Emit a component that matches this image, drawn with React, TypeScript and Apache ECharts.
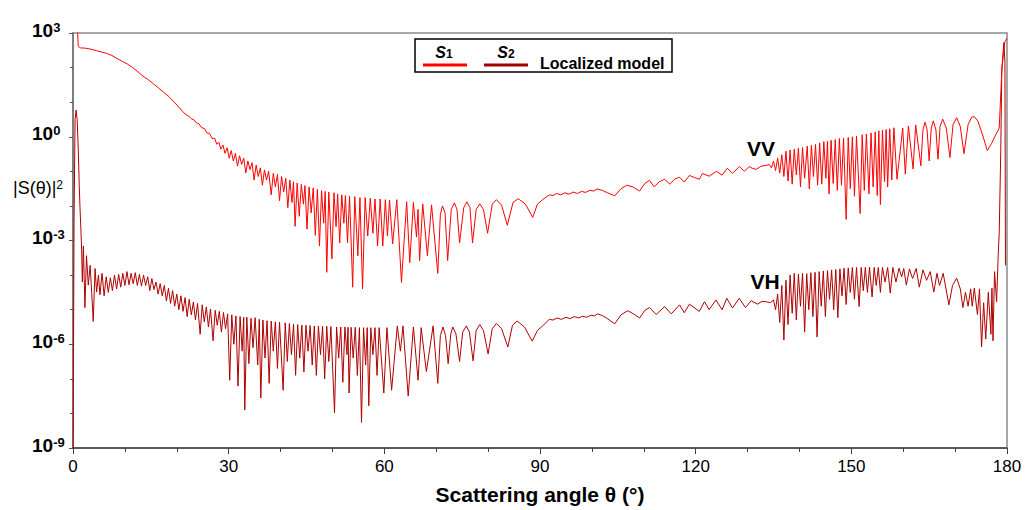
import React, { useEffect, useRef } from "react";
import * as echarts from "echarts";

// theta (deg) and log10 |S(theta)|^2
const xTicks = [0, 30, 60, 90, 120, 150, 180];
const yTickExponents = [-9, -6, -3, 0, 3];

const vvLog10: [number, number][] = [
  [0, 3.8], [0.8, 3.4], [1.0, 2.62], [1.4, 2.57], [2.5, 2.56], [3.5, 2.53], [4.5, 2.49], [5.5, 2.45], [6.5, 2.41], [7.5, 2.35],
  [8.5, 2.26], [9.5, 2.18], [10.5, 2.1], [11.5, 2.0], [12.5, 1.88], [13.5, 1.75], [14.5, 1.65], [15.5, 1.53], [16.5, 1.41], [17.5, 1.28],
  [18.5, 1.16], [19.5, 1.0], [20.5, 0.84], [21.3, 0.70], [21.8, 0.64], [22.3, 0.60], [22.8, 0.52], [23.3, 0.49], [23.8, 0.40], [24.3, 0.37],
  [24.8, 0.26], [25.3, 0.24], [25.8, 0.11], [26.3, 0.10], [26.8, -0.05], [27.3, -0.04], [27.7, -0.22], [28.1, -0.15], [28.5, -0.36], [28.9, -0.24],
  [29.3, -0.48], [29.7, -0.32], [30.1, -0.62], [30.5, -0.40], [30.9, -0.70], [31.3, -0.48], [31.7, -0.85], [32.1, -0.55], [32.5, -0.80], [32.9, -0.62],
  [33.3, -1.05], [33.7, -0.70], [34.1, -0.95], [34.5, -0.75], [34.9, -1.25], [35.3, -0.82], [35.7, -1.15], [36.1, -0.90], [36.5, -1.40], [36.9, -0.96],
  [37.3, -1.25], [37.7, -1.00], [38.2, -1.68], [38.6, -1.06], [39.0, -1.45], [39.4, -1.09], [39.8, -1.85], [40.2, -1.15], [40.6, -1.60], [41.0, -1.20],
  [41.4, -2.05], [41.8, -1.25], [42.2, -1.90], [42.5, -1.30], [42.8, -2.59], [43.2, -1.34], [43.6, -2.30], [44.0, -1.38], [44.4, -1.95], [44.7, -1.41],
  [45.1, -2.67], [45.5, -1.45], [45.9, -2.20], [46.3, -1.48], [46.7, -2.85], [47.1, -1.52], [47.5, -3.16], [47.9, -1.56], [48.3, -2.5], [48.6, -1.58],
  [48.9, -3.92], [49.3, -1.60], [49.9, -3.53], [50.3, -1.62], [50.7, -2.6], [51.0, -1.66], [51.4, -3.07], [51.8, -1.68], [52.2, -2.5], [52.5, -1.70],
  [52.9, -3.07], [53.3, -1.72], [53.9, -4.35], [54.3, -1.73], [54.9, -3.44], [55.3, -1.76], [55.8, -4.40], [56.3, -1.76], [56.8, -2.87], [57.3, -1.78],
  [57.8, -2.79], [58.2, -1.80], [58.7, -3.16], [59.2, -1.80], [59.7, -3.16], [60.2, -1.82], [60.6, -2.87], [61.0, -1.83], [61.6, -3.10], [62.4, -1.82],
  [63.3, -4.21], [64.3, -1.88], [64.9, -3.64], [65.6, -1.90], [66.2, -2.90], [66.5, -2.10], [66.8, -3.58], [67.4, -1.94], [68.3, -3.44], [69.1, -1.97],
  [70.3, -3.95], [70.8, -2.25], [71.2, -2.0], [71.7, -2.2], [72.2, -3.58], [72.9, -2.1], [73.5, -1.91], [74.0, -2.1], [74.5, -3.07], [75.3, -2.05],
  [75.9, -1.88], [76.5, -2.05], [77.0, -3.07], [77.7, -2.1], [78.4, -1.94], [79.1, -2.1], [79.9, -2.79], [80.8, -1.95], [81.6, -1.82], [82.6, -1.98],
  [83.7, -2.56], [84.8, -1.9], [85.8, -1.79], [87.2, -1.95], [88.6, -2.33], [89.5, -1.95], [90.5, -1.82], [91.8, -1.68], [92.5, -1.70], [93.2, -1.64],
  [94.0, -1.68], [94.8, -1.62], [95.6, -1.66], [96.4, -1.60], [97.2, -1.64], [98.0, -1.58], [98.8, -1.61], [99.6, -1.55], [100.4, -1.57], [101.0, -1.51],
  [102.0, -1.55], [103.0, -1.62], [104.4, -1.71], [105.5, -1.52], [106.7, -1.40], [107.9, -1.45], [109.2, -1.57], [110.2, -1.35], [111.1, -1.26], [112.0, -1.45],
  [113.0, -1.30], [114.0, -1.23], [115.0, -1.37], [116.0, -1.22], [116.9, -1.17], [117.8, -1.31], [118.8, -1.12], [119.8, -1.18], [120.7, -1.23], [121.3, -1.06],
  [122.6, -1.14], [124.0, -1.00], [125.1, -1.11], [126.1, -0.91], [127.1, -1.06], [128.4, -0.86], [129.4, -1.00], [130.3, -0.86], [131.0, -0.92], [131.7, -0.94],
  [132.6, -0.85], [133.6, -0.83], [134.2, -0.80], [134.6, -0.90], [135.0, -0.70], [135.4, -0.98], [135.8, -0.62], [136.2, -1.05], [136.6, -0.52], [137.0, -1.15],
  [137.4, -0.42], [137.8, -1.28], [138.2, -0.38], [138.6, -1.37], [139.0, -0.36], [139.4, -1.10], [139.8, -0.33], [140.2, -1.45], [140.6, -0.31], [141.0, -1.20],
  [141.5, -0.27], [141.9, -1.51], [142.3, -0.25], [142.7, -1.15], [143.1, -0.22], [143.5, -1.40], [143.9, -0.18], [144.3, -1.37], [144.7, -0.14], [145.1, -1.20],
  [145.4, -0.13], [145.7, -1.65], [146.1, -0.10], [146.5, -1.35], [146.9, -0.08], [147.3, -1.55], [147.7, -0.05], [148.1, -1.40], [148.5, -0.04], [149.0, -2.39],
  [149.4, -0.02], [149.8, -1.50], [150.2, 0.0], [150.6, -1.72], [151.0, 0.02], [151.7, -2.22], [152.1, 0.06], [152.5, -1.55], [152.9, 0.08], [153.4, -1.65],
  [153.8, 0.11], [154.2, -1.45], [154.6, 0.14], [155.0, -1.70], [155.3, 0.17], [155.6, -1.96], [156.0, 0.19], [156.4, -1.30], [156.7, 0.21], [157.0, -1.45],
  [157.4, 0.23], [157.8, -1.25], [158.2, 0.26], [158.8, -1.23], [159.9, 0.25], [160.4, -1.08], [161.0, 0.31], [161.9, -0.93], [162.4, 0.34], [163.4, -0.84],
  [163.8, 0.2], [164.2, 0.42], [164.6, 0.2], [165.0, -0.70], [165.4, 0.25], [165.8, 0.46], [166.3, 0.2], [166.7, -0.65], [167.1, 0.3], [167.6, 0.51],
  [168.3, 0.25], [169.0, -0.60], [169.6, 0.35], [170.3, 0.55], [171.0, 0.3], [171.7, -0.49], [172.5, 0.35], [173.2, 0.57], [173.7, 0.58], [174.4, 0.45],
  [175.3, 0.05], [176.2, -0.40], [177.0, -0.20], [177.8, 0.05], [178.5, 0.25], [179.0, 1.9], [179.3, 2.4], [179.6, 2.75], [180, 2.85],
];

const vhLog10: [number, number][] = [
  [0, -10], [0.2, -2.5], [0.4, 0.5], [0.6, 0.77], [0.8, 0.5], [1.0, -0.3], [1.2, -1.4], [1.35, -2.05], [1.5, -2.6], [1.67, -3.3],
  [1.8, -4.2], [2.0, -3.16], [2.3, -4.94], [2.6, -3.44], [2.95, -4.29], [3.3, -3.72], [3.6, -4.5], [3.9, -5.34], [4.25, -3.81], [4.55, -4.49],
  [4.9, -4.0], [5.2, -4.57], [5.6, -3.95], [6.0, -4.6], [6.4, -4.05], [6.8, -4.5], [7.2, -4.08], [7.6, -4.45], [8.0, -4.0], [8.4, -4.4],
  [8.8, -3.98], [9.2, -4.35], [9.6, -3.95], [10.0, -4.3], [10.4, -3.9], [10.8, -4.28], [11.2, -3.95], [11.6, -4.25], [12.0, -3.93], [12.4, -4.3],
  [12.8, -3.98], [13.2, -4.32], [13.6, -4.0], [14.0, -4.3], [14.4, -4.05], [14.8, -4.45], [15.2, -4.1], [15.6, -4.42], [16.0, -4.2], [16.4, -4.55],
  [16.8, -4.25], [17.2, -4.6], [17.6, -4.3], [18.0, -4.75], [18.4, -4.38], [18.8, -4.82], [19.2, -4.45], [19.6, -4.9], [20.0, -4.55], [20.4, -5.0],
  [20.8, -4.6], [21.2, -5.05], [21.6, -4.65], [22.0, -5.2], [22.4, -4.7], [22.8, -5.15], [23.2, -4.78], [23.6, -5.3], [24.0, -4.82], [24.5, -5.71],
  [24.9, -4.86], [25.3, -5.35], [25.7, -4.92], [26.1, -5.5], [26.5, -4.98], [27.0, -5.9], [27.4, -5.02], [27.8, -5.45], [28.2, -5.05], [28.6, -5.65],
  [29.0, -5.08], [29.4, -5.55], [29.8, -5.12], [30.2, -7.04], [30.6, -5.15], [31.0, -6.0], [31.4, -5.18], [31.8, -7.21], [32.2, -5.2], [32.6, -6.2],
  [32.9, -5.22], [33.1, -7.9], [33.5, -5.22], [33.9, -6.56], [34.3, -5.25], [34.7, -6.1], [35.1, -5.23], [35.6, -6.6], [35.9, -5.28], [36.2, -7.55],
  [36.6, -5.3], [37.0, -6.4], [37.4, -5.32], [37.8, -7.13], [38.2, -5.33], [38.6, -6.2], [39.0, -5.35], [39.4, -6.7], [39.8, -5.36], [40.5, -7.33],
  [40.9, -5.38], [41.3, -6.5], [41.7, -5.4], [42.1, -6.3], [42.5, -5.42], [42.9, -6.9], [43.3, -5.43], [43.7, -6.4], [44.1, -5.45], [44.5, -6.8],
  [44.9, -5.45], [45.3, -6.2], [45.7, -5.46], [46.1, -6.6], [46.5, -5.47], [46.9, -6.9], [47.3, -5.47], [47.7, -6.3], [48.1, -5.48], [48.5, -7.0],
  [48.9, -5.48], [49.3, -6.5], [49.7, -5.49], [50.4, -7.98], [50.8, -5.5], [51.2, -6.4], [51.6, -5.5], [52.0, -7.1], [52.4, -5.5], [52.8, -6.3],
  [53.0, -5.51], [53.2, -7.41], [53.6, -5.51], [54.0, -6.4], [54.4, -5.51], [54.8, -6.9], [55.2, -5.52], [55.6, -8.26], [56.0, -5.52], [56.4, -6.6],
  [56.7, -5.52], [57.0, -7.78], [57.4, -5.52], [57.8, -6.3], [58.2, -5.52], [58.6, -6.9], [59.0, -5.52], [59.9, -7.41], [60.5, -5.52], [61.4, -7.33],
  [62.5, -5.47], [63.1, -6.2], [63.6, -5.47], [64.6, -7.5], [65.6, -5.5], [66.5, -7.04], [67.1, -5.52], [68.1, -6.79], [69.4, -5.47], [70.3, -7.13],
  [70.8, -5.75], [71.3, -5.5], [71.8, -5.75], [72.3, -6.56], [72.8, -5.7], [73.2, -5.50], [73.8, -5.7], [74.5, -6.5], [75.1, -5.65], [75.8, -5.47],
  [76.4, -5.65], [77.1, -6.48], [77.7, -5.6], [78.4, -5.43], [79.1, -5.6], [80.0, -6.28], [80.8, -5.55], [81.6, -5.40], [82.6, -5.55], [83.8, -6.08],
  [84.7, -5.45], [85.6, -5.33], [87.0, -5.5], [88.5, -5.91], [89.5, -5.6], [90.5, -5.47], [91.8, -5.28], [92.5, -5.3], [93.3, -5.24], [94.1, -5.28],
  [95.0, -5.22], [95.8, -5.26], [96.6, -5.2], [97.4, -5.24], [98.2, -5.19], [99.0, -5.22], [99.8, -5.16], [100.5, -5.18], [101.1, -5.12], [102.0, -5.17],
  [102.8, -5.24], [104.4, -5.41], [105.6, -5.15], [106.9, -5.03], [108.0, -5.12], [109.2, -5.24], [110.2, -5.02], [111.1, -4.94], [112.4, -5.14], [114.0, -4.91],
  [115.3, -5.12], [116.9, -4.86], [117.8, -5.09], [118.8, -4.84], [120.7, -5.05], [121.7, -4.77], [122.6, -5.0], [123.9, -4.72], [125.1, -5.0], [126.0, -4.67],
  [127.1, -4.95], [128.4, -4.67], [129.6, -4.94], [130.7, -4.74], [131.9, -4.84], [132.8, -4.76], [133.6, -4.77], [134.4, -4.80], [135.0, -4.72], [135.4, -5.0],
  [135.8, -4.55], [136.2, -5.37], [136.6, -4.30], [137.0, -5.88], [137.4, -4.15], [137.8, -5.43], [138.2, -4.0], [138.6, -5.1], [139.0, -3.95], [139.4, -5.3],
  [139.8, -3.97], [140.2, -4.9], [140.6, -3.95], [141.0, -5.65], [141.4, -3.96], [141.8, -5.0], [142.2, -3.93], [142.6, -5.2], [143.0, -3.92], [143.4, -5.79],
  [143.8, -3.9], [144.2, -4.9], [144.6, -3.88], [145.0, -5.2], [145.4, -3.87], [145.8, -4.7], [146.2, -3.85], [146.6, -5.0], [147.0, -3.84], [147.4, -5.23],
  [147.8, -3.82], [148.2, -4.6], [148.6, -3.8], [149.0, -4.85], [149.4, -3.79], [149.8, -4.5], [150.2, -3.78], [150.6, -4.7], [151.0, -3.78], [151.5, -4.91],
  [151.9, -3.78], [152.3, -4.45], [152.7, -3.78], [153.1, -4.5], [153.5, -3.77], [154.0, -4.63], [154.4, -3.78], [154.8, -4.3], [155.2, -3.78], [155.6, -4.5],
  [156.0, -3.78], [156.5, -4.2], [157.0, -3.78], [157.5, -4.52], [158.0, -3.78], [158.6, -4.2], [159.2, -3.8], [159.7, -4.05], [160.1, -3.81], [160.6, -4.29],
  [161.2, -3.82], [161.8, -4.1], [162.5, -3.81], [163.1, -4.35], [163.8, -3.85], [164.5, -4.15], [165.2, -3.9], [165.9, -4.49], [166.5, -3.95], [167.0, -4.3],
  [167.7, -3.95], [168.8, -4.86], [169.5, -4.3], [170.3, -4.09], [171.0, -4.4], [171.5, -4.94], [172.0, -4.5], [172.5, -4.9], [173.0, -4.4], [173.3, -4.9],
  [173.7, -4.38], [174.3, -5.14], [174.7, -4.4], [175.1, -6.08], [175.5, -4.8], [175.9, -5.85], [176.4, -4.5], [176.9, -5.71], [177.1, -4.38], [177.3, -5.9],
  [177.6, -3.9], [178.0, -4.77], [178.3, -3.44], [178.5, -2.79], [178.8, -0.40], [179.0, 1.95], [179.4, 2.72], [179.6, 2.15], [179.7, -3.72],
];

const seriesNames = ["S1", "S2"];
const FONT = "Liberation Sans, Arial, sans-serif";

export default function App() {
  const ref = useRef<HTMLDivElement>(null);
  useEffect(() => {
    if (!ref.current) return;
    const chart = echarts.init(ref.current, undefined, { renderer: "svg" });
    const subRich = {
      i: { fontSize: 16, fontStyle: "italic", fontWeight: "bold", fontFamily: FONT, color: "#000", lineHeight: 16, verticalAlign: "top" },
      n: { fontSize: 12, fontWeight: "bold", fontFamily: FONT, color: "#000", lineHeight: 12, verticalAlign: "bottom", padding: [6, 0, 0, 0] },
    };
    chart.setOption({
      animation: false,
      backgroundColor: "#ffffff",
      grid: {
        left: 73, right: 18, top: 33, bottom: 54,
        show: true, borderColor: "#8c8c8c", borderWidth: 1.5, backgroundColor: "transparent",
      },
      xAxis: {
        type: "value", min: xTicks[0], max: xTicks[xTicks.length - 1], interval: 30,
        axisLine: { onZero: false, lineStyle: { color: "#404040", width: 1.5 } },
        axisTick: { length: 6, lineStyle: { color: "#404040" } },
        minorTick: { show: true, splitNumber: 3, length: 4, lineStyle: { color: "#404040" } },
        splitLine: { show: false },
        axisLabel: { fontSize: 17, color: "#000", margin: 10, fontFamily: FONT },
        name: "Scattering angle θ (°)", nameLocation: "middle", nameGap: 36,
        nameTextStyle: { fontSize: 21, fontWeight: "bold", color: "#000", fontFamily: FONT },
      },
      yAxis: {
        type: "value", min: yTickExponents[0], max: yTickExponents[yTickExponents.length - 1], interval: 3,
        axisLine: { onZero: false, lineStyle: { color: "#707070", width: 1.5 } },
        axisTick: { length: 4, lineStyle: { color: "#505050" } },
        minorTick: { show: true, splitNumber: 3, length: 3, lineStyle: { color: "#505050" } },
        splitLine: { show: false },
        axisLabel: {
          align: "left", margin: 41, padding: [0, 0, 6, 0],
          fontSize: 19, fontFamily: FONT, color: "#000",
          formatter: (v: number) => `{b|10}{s|${v}}`,
          rich: {
            b: { fontSize: 19, fontWeight: "bold", lineHeight: 19, color: "#000", fontFamily: FONT, verticalAlign: "bottom" },
            s: { fontSize: 13, fontWeight: "bold", lineHeight: 13, color: "#000", fontFamily: FONT, verticalAlign: "top", padding: [0, 0, 10, 0] },
          },
        },
      },
      series: [
        { name: seriesNames[0], type: "line", data: vvLog10, symbol: "none", clip: true, lineStyle: { color: "#ff0000", width: 1 }, z: 3 },
        { name: seriesNames[1], type: "line", data: vhLog10, symbol: "none", clip: true, lineStyle: { color: "#b00000", width: 1 }, z: 2 },
      ],
      graphic: [
        { type: "rect", shape: { x: 415, y: 39, width: 257, height: 33 }, style: { fill: "#fff", stroke: "#000", lineWidth: 1.5 }, z: 10 },
        { type: "line", shape: { x1: 423, y1: 65, x2: 467, y2: 65 }, style: { stroke: "#ff0000", lineWidth: 3 }, z: 11 },
        { type: "line", shape: { x1: 484, y1: 65, x2: 528, y2: 65 }, style: { stroke: "#a00000", lineWidth: 3 }, z: 11 },
        {
          type: "text", x: 444, y: 52, z: 11,
          style: { text: "{i|S}{n|1}", align: "center", verticalAlign: "middle", rich: subRich },
        },
        {
          type: "text", x: 506, y: 52, z: 11,
          style: { text: "{i|S}{n|2}", align: "center", verticalAlign: "middle", rich: subRich },
        },
        {
          type: "text", x: 540, y: 63, z: 11,
          style: { text: "Localized model", fontSize: 16, fontWeight: "bold", fontFamily: FONT, fill: "#000", align: "left", verticalAlign: "middle" },
        },
        {
          type: "text", x: 761, y: 148, z: 11,
          style: { text: "VV", fontSize: 21, fontWeight: "bold", fontFamily: FONT, fill: "#000", align: "center", verticalAlign: "middle" },
        },
        {
          type: "text", x: 765, y: 281, z: 11,
          style: { text: "VH", fontSize: 21, fontWeight: "bold", fontFamily: FONT, fill: "#000", align: "center", verticalAlign: "middle" },
        },
        {
          type: "text", x: 38, y: 188, z: 11,
          style: {
            text: "{a||S(θ)|}{s|2}", align: "center", verticalAlign: "middle",
            rich: {
              a: { fontSize: 18, fontFamily: FONT, color: "#000", lineHeight: 18, verticalAlign: "bottom" },
              s: { fontSize: 12, fontFamily: FONT, color: "#000", lineHeight: 12, verticalAlign: "top", padding: [0, 0, 9, 0] },
            },
          },
        },
      ],
    });
    return () => chart.dispose();
  }, []);
  return <div ref={ref} style={{ position: "fixed", left: 0, top: 0, width: 1025, height: 510 }} />;
}
